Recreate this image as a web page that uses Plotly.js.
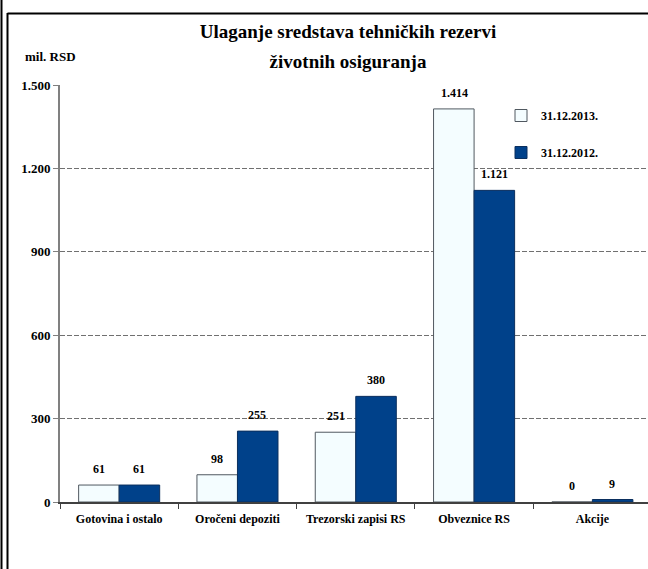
<!DOCTYPE html>
<html>
<head>
<meta charset="utf-8">
<script src="https://cdn.plot.ly/plotly-3.0.1.min.js"></script>
<style>
  html, body { margin: 0; padding: 0; background: #fff; }
  #chart { width: 648px; height: 569px; }
</style>
</head>
<body>
<div id="chart"></div>
<script>
const categories = ["Gotovina i ostalo", "Oročeni depoziti", "Trezorski zapisi RS", "Obveznice RS", "Akcije"];
const values2013 = [61, 98, 251, 1414, 0];
const values2012 = [61, 255, 380, 1121, 9];
const seriesNames = ["31.12.2013.", "31.12.2012."];
const yTicks = [0, 300, 600, 900, 1200, 1500];
const titleLines = ["Ulaganje sredstava tehničkih rezervi", "životnih osiguranja"];

const W = 648, H = 569;
const M = { l: 60, r: 0, t: 85, b: 67 };
const PW = W - M.l - M.r, PH = H - M.t - M.b;
const px = x => (x - M.l) / PW;
const py = y => (H - M.b - y) / PH;

const serif = "Times New Roman, Liberation Serif, serif";

const fmt = v => v.toLocaleString('de-DE');

const traces = [
  {
    type: 'bar', name: seriesNames[0], x: categories, y: values2013,
    marker: { color: '#F4FDFF', line: { color: '#505860', width: 1 } },
    legendgroup: 'a', hoverinfo: 'x+y'
  },
  {
    type: 'bar', name: seriesNames[1], x: categories, y: values2012,
    marker: { color: '#00418A', line: { color: '#0B2F5E', width: 1 } },
    legendgroup: 'b', hoverinfo: 'x+y'
  }
];

const annotations = [];
[values2013, values2012].forEach((vals, s) => {
  vals.forEach((v, i) => {
    annotations.push({
      x: categories[i], y: v, xref: 'x', yref: 'y',
      text: '<b>' + fmt(v) + '</b>', showarrow: false,
      xshift: s === 0 ? -20 : 20, yshift: 7, yanchor: 'bottom',
      font: { family: serif, size: 12, color: '#000' }
    });
  });
});
annotations.push({
  xref: 'paper', yref: 'paper', x: px(50), y: py(57),
  text: '<b>mil. RSD</b>', showarrow: false, xanchor: 'center', yanchor: 'middle',
  font: { family: serif, size: 13, color: '#000' }
});

const shapes = [
  { type: 'line', xref: 'paper', yref: 'paper', x0: px(1.5), x1: px(1.5), y0: py(0), y1: py(569), line: { color: '#000', width: 2 } },
  { type: 'line', xref: 'paper', yref: 'paper', x0: px(7.5), x1: px(7.5), y0: py(13), y1: py(569), line: { color: '#000', width: 2 } },
  { type: 'line', xref: 'paper', yref: 'paper', x0: px(7.5), x1: px(648), y0: py(13.5), y1: py(13.5), line: { color: '#000', width: 2 } }
];

const layout = {
  width: W, height: H,
  margin: M,
  font: { family: serif },
  paper_bgcolor: '#fff', plot_bgcolor: '#fff',
  separators: ',.',
  barmode: 'group', bargap: 0.315, bargroupgap: 0,
  title: {
    text: titleLines.map(l => '<span style="font-size:19px"><b>' + l + '</b></span>').join('<br>'),
    font: { family: serif, size: 23, color: '#000' },
    xref: 'container', x: 348 / W, xanchor: 'center',
    yref: 'container', y: 1 - 38 / H, yanchor: 'middle'
  },
  xaxis: {
    type: 'category', range: [-0.5, 4.47],
    showline: true, linecolor: '#404040', linewidth: 2,
    ticks: 'outside', tickson: 'boundaries', ticklen: 5, tickcolor: '#404040', tickwidth: 1,
    ticklabelstandoff: 5,
    tickfont: { family: serif, size: 12, color: '#000' },
    showgrid: false, fixedrange: true
  },
  yaxis: {
    range: [0, 1500], tickvals: yTicks, separatethousands: true,
    showline: true, linecolor: '#808080', linewidth: 2,
    ticks: 'outside', ticklen: 5, tickcolor: '#808080',
    tickfont: { family: serif, size: 13, color: '#000' },
    showgrid: true, gridcolor: '#707070', gridwidth: 1, griddash: '5px,2px',
    zeroline: false, fixedrange: true
  },
  legend: {
    x: px(501), y: py(101), xanchor: 'left', yanchor: 'top',
    font: { family: serif, size: 12, color: '#000' },
    tracegroupgap: 18, bgcolor: 'rgba(0,0,0,0)', traceorder: 'grouped'
  },
  annotations: annotations,
  shapes: shapes
};

Plotly.newPlot('chart', traces, layout, { displayModeBar: false, staticPlot: true }).then(() => {
  document.querySelectorAll('.xtick text, .ytick text, .legendtext').forEach(t => {
    t.style.fontWeight = 'bold';
  });
});
</script>
</body>
</html>
